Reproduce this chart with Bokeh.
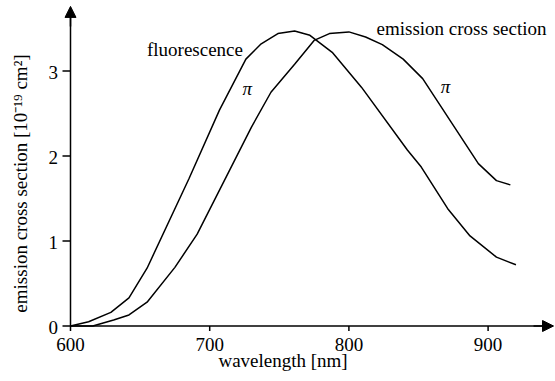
import math
from bokeh.plotting import figure
from bokeh.models import Range1d, Label, Arrow, NormalHead
from bokeh.embed import file_html
from bokeh.resources import INLINE

# Data
wl_fluor = [600, 613, 629, 642, 655, 685, 707, 726, 737, 749, 761, 772, 788, 809, 842, 852, 871, 887, 906, 920]
sigma_fluor = [0.0, 0.05, 0.16, 0.33, 0.68, 1.73, 2.54, 3.14, 3.32, 3.44, 3.47, 3.42, 3.22, 2.81, 2.07, 1.87, 1.38, 1.06, 0.81, 0.72]

wl_pi = [600, 616, 631, 642, 655, 675, 691, 730, 744, 761, 775, 786, 800, 812, 824, 839, 853, 893, 906, 916]
sigma_pi = [0.0, 0.0, 0.07, 0.13, 0.28, 0.69, 1.08, 2.34, 2.75, 3.08, 3.36, 3.44, 3.46, 3.40, 3.31, 3.14, 2.91, 1.91, 1.71, 1.66]

x_ticks = [600, 700, 800, 900]
y_ticks = [0, 1, 2, 3]
x_tick_labels = ["600", "700", "800", "900"]
y_tick_labels = ["0", "1", "2", "3"]

FONT = "Liberation Serif"
FS = "19px"

# pixel scale of the reference: 1.392 px per nm, 85 px per unit
W, H = 555, 381
PX_X, PX_Y = 1.392, 85.0
ORIGIN_PX = (70.0, 325.5)
x_lo = 600 - ORIGIN_PX[0] / PX_X
x_hi = x_lo + W / PX_X
y_hi = ORIGIN_PX[1] / PX_Y
y_lo = y_hi - H / PX_Y

x_axis_end = 947.0
y_axis_end = 3.76

p = figure(width=W, height=H, output_backend="svg", toolbar_location=None,
           x_range=Range1d(x_lo, x_hi), y_range=Range1d(y_lo, y_hi),
           x_axis_location=None, y_axis_location=None, min_border=0)
p.outline_line_color = None
p.xgrid.visible = False
p.ygrid.visible = False
p.background_fill_color = "white"
p.border_fill_color = "white"

dx = 1.0 / PX_X   # one pixel in data units (x)
dy = 1.0 / PX_Y   # one pixel in data units (y)

# axis lines
p.segment(x0=[600, 600], y0=[0, 0], x1=[x_axis_end - 6 * dx, 600], y1=[0, y_axis_end - 6 * dy],
          line_color="black", line_width=1.5)
# axis arrow heads
p.add_layout(Arrow(end=NormalHead(size=11, fill_color="black", line_color="black", line_width=1),
                   x_start=600, y_start=y_axis_end - 20 * dy, x_end=600, y_end=y_axis_end,
                   line_color="black", line_width=1.5))
p.add_layout(Arrow(end=NormalHead(size=11, fill_color="black", line_color="black", line_width=1),
                   x_start=x_axis_end - 20 * dx, y_start=0, x_end=x_axis_end, y_end=0,
                   line_color="black", line_width=1.5))

# ticks
p.segment(x0=x_ticks, y0=[0] * len(x_ticks), x1=x_ticks, y1=[-5 * dy] * len(x_ticks),
          line_color="black", line_width=1.5)
p.segment(x0=[600] * len(y_ticks), y0=y_ticks, x1=[600 - 8 * dx] * len(y_ticks), y1=y_ticks,
          line_color="black", line_width=1.5)

# curves
p.line(wl_fluor, sigma_fluor, line_color="black", line_width=1.5)
p.line(wl_pi, sigma_pi, line_color="black", line_width=1.5)


def lab(x, y, t, angle=0.0, style="normal", align="center", baseline="middle"):
    p.add_layout(Label(x=x, y=y, text=t, text_font=FONT, text_font_size=FS,
                       text_font_style=style, text_color="black",
                       text_align=align, text_baseline=baseline, angle=angle))


# tick labels
for t, s in zip(x_ticks, x_tick_labels):
    lab(t, -18.0 * dy, s)
for t, s in zip(y_ticks, y_tick_labels):
    lab(600 - 12.5 * dx, t - 1 * dy, s, align="right")

lab(689.4, 3.25, "fluorescence")
lab(727.0, 2.79, "π", style="italic")
lab(880.9, 3.50, "emission cross section")
lab(869.4, 2.82, "π", style="italic")
lab(752.7, -34.5 * dy, "wavelength [nm]")
lab(600 - 50.5 * dx, (325.5 - 183.0) * dy, "emission cross section [10⁻¹⁹ cm²]", angle=math.pi / 2)

open("out.html", "w").write(file_html(p, INLINE))
